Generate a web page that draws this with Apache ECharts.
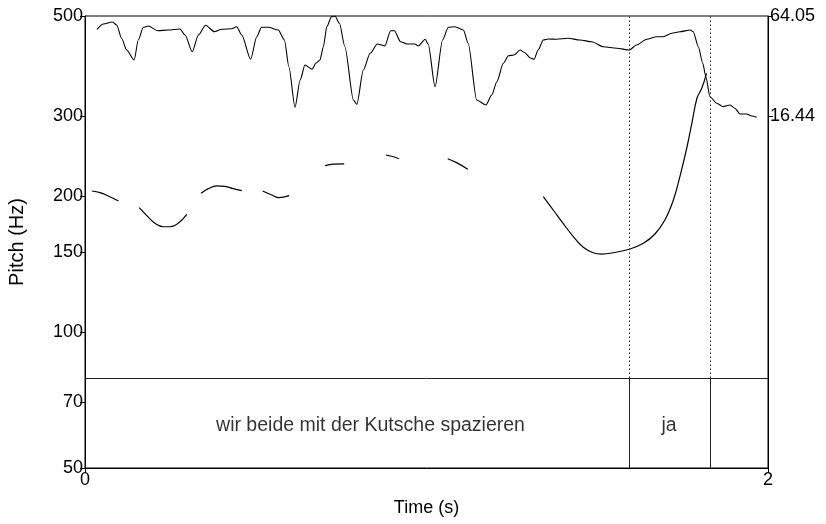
<!DOCTYPE html>
<html><head><meta charset="utf-8">
<script src="https://cdn.jsdelivr.net/npm/echarts@6/dist/echarts.min.js"></script>
<style>html,body{margin:0;padding:0;background:#fff}#c{width:826px;height:524px}</style>
</head><body><div id="c"></div>
<script>
// Pitch contour (s, Hz); null marks an unvoiced gap
const pitchTime = [0.020,0.044,0.068,0.098, 0.128, 0.159,0.181,0.205,0.229,0.249,0.273,0.298, 0.319, 0.340,0.361,0.386,0.410,0.434,0.459, 0.490, 0.520,0.547,0.568,0.598, 0.650, 0.703,0.727,0.759, 0.820, 0.881,0.898,0.920, 0.991, 1.062,1.088,1.121, 1.232, 1.342,1.371,1.401,1.430,1.459,1.488,1.513,1.547,1.594,1.635,1.669,1.698,1.723,1.742,1.762,1.777,1.792,1.806,1.820];
const pitchHz = [205.0,203.3,199.9,194.9, null, 188.3,180.8,173.9,170.9,170.9,173.9,182.1, null, 202.7,207.5,210.4,210.0,207.5,205.4, null, 205.0,200.9,198.2,200.2, null, 233.3,235.0,235.3, null, 246.3,244.7,241.7, null, 241.7,236.9,229.0, null, 199.2,186.1,173.4,162.5,153.9,149.7,148.7,149.7,152.4,157.1,164.7,176.9,195.9,220.6,254.9,289.5,328.8,345.9,373.4];

// Intensity contour (s, dB)
const intensityTime = [0.035,0.054,0.080,0.093,0.107,0.122,0.144,0.156,0.171,0.185,0.213,0.244,0.278,0.293,0.314,0.332,0.353,0.379,0.400,0.430,0.444,0.459,0.485,0.503,0.517,0.537,0.566,0.584,0.597,0.615,0.630,0.644,0.665,0.676,0.688,0.698,0.708,0.722,0.732,0.745,0.761,0.786,0.796,0.815,0.835,0.856,0.869,0.878,0.895,0.906,0.924,0.942,0.966,0.976,0.996,1.005,1.025,1.047,1.064,1.083,1.108,1.122,1.147,1.174,1.191,1.206,1.225,1.240,1.256,1.274,1.288,1.303,1.315,1.327,1.342,1.357,1.381,1.415,1.449,1.484,1.518,1.557,1.594,1.615,1.645,1.674,1.693,1.718,1.742,1.772,1.781,1.796,1.809,1.818,1.830,1.850,1.869,1.889,1.903,1.918,1.938,1.952,1.967];
const intensityDb = [57.72,60.24,61.19,59.77,53.43,47.86,43.10,52.62,58.67,59.29,57.05,57.38,57.86,55.00,47.05,55.00,59.62,56.58,57.72,58.00,58.96,55.00,43.43,54.19,58.67,58.67,57.38,52.62,39.91,20.58,33.58,40.72,38.67,41.53,43.10,49.43,58.96,63.72,64.05,60.57,49.43,24.06,22.01,38.34,46.29,50.72,50.24,49.77,57.05,57.05,51.81,50.72,50.72,49.77,52.96,50.72,30.39,52.62,58.67,58.96,57.38,51.05,24.06,21.68,26.44,32.77,41.53,45.15,45.48,47.86,46.58,44.20,43.43,47.86,52.62,53.10,52.96,53.43,52.62,51.81,49.43,48.67,47.86,50.24,52.96,54.19,54.19,55.81,56.58,57.38,56.58,49.43,41.53,35.15,25.63,22.49,20.87,21.68,20.11,17.39,17.39,16.44,15.82];

// Axes
const pitchTicks = [50,70,100,150,200,300,500];
const intensityTicks = [16.44, 64.05];
const timeRange = [0, 2];

// TextGrid tier
const boundaries = [1.593, 1.830];
const tierLabels = ['wir beide mit der Kutsche spazieren', 'ja'];
const tierLabelTime = [0.836, 1.710];
const tierTopHz = 79.1;
const tierMidHz = 62.0;

const FONT = "'Liberation Sans', Arial, sans-serif";
const chart = echarts.init(document.getElementById('c'), null, {renderer: 'canvas'});

const pitchData = pitchTime.map((t, i) => [t, pitchHz[i] == null ? '-' : pitchHz[i]]);
const intensityData = intensityTime.map((t, i) => [t, intensityDb[i]]);

const vSolid = boundaries.map(b => [{coord: [b, 50]}, {coord: [b, tierTopHz]}]);
const vDotted = boundaries.map(b => [{coord: [b, tierTopHz]}, {coord: [b, 500]}]);

const axisTxt = {color: '#000', fontSize: 18, fontFamily: FONT};

chart.setOption({
  animation: false,
  backgroundColor: '#fff',
  grid: {left: 85, right: 58, top: 16, bottom: 56, show: true, borderColor: '#000', borderWidth: 1,
         backgroundColor: 'transparent', containLabel: false, outerBoundsMode: 'none'},
  xAxis: {
    type: 'value', min: timeRange[0], max: timeRange[1], interval: 2,
    name: 'Time (s)', nameLocation: 'middle', nameGap: 31,
    nameTextStyle: {color: '#000', fontSize: 18, fontFamily: FONT},
    axisLine: {show: true, onZero: false, lineStyle: {color: '#000', width: 1}},
    axisTick: {show: true, inside: false, length: 5, lineStyle: {color: '#000'}},
    axisLabel: Object.assign({margin: 3}, axisTxt),
    splitLine: {show: false}
  },
  yAxis: [{
    type: 'log', logBase: 10, min: 50, max: 500,
    name: 'Pitch (Hz)', nameLocation: 'middle', nameGap: 58,
    nameTextStyle: {color: '#000', fontSize: 20, fontFamily: FONT},
    axisLine: {show: true, lineStyle: {color: '#000', width: 1}},
    axisTick: {show: true, inside: false, length: 5, customValues: pitchTicks, lineStyle: {color: '#000'}},
    axisLabel: Object.assign({margin: 2, customValues: pitchTicks, showMinLabel: true, showMaxLabel: true}, axisTxt),
    splitLine: {show: false}
  }, {
    type: 'value', min: 64.05 - 452 * 0.4761, max: 64.05, position: 'right',
    axisLine: {show: true, lineStyle: {color: '#000', width: 1}},
    axisTick: {show: true, inside: false, length: 5, customValues: intensityTicks, lineStyle: {color: '#000'}},
    axisLabel: Object.assign({margin: 2, customValues: intensityTicks, formatter: v => v.toFixed(2)}, axisTxt),
    splitLine: {show: false}
  }],
  series: [{
    type: 'line', name: 'pitch', data: pitchData, yAxisIndex: 0,
    showSymbol: false, connectNulls: false, smooth: 0.4,
    lineStyle: {color: '#000', width: 1.2}, silent: true,
    markLine: {
      silent: true, symbol: 'none', label: {show: false},
      data: [
        [{coord: [timeRange[0], tierTopHz]}, {coord: [timeRange[1], tierTopHz]}]
      ].concat(vSolid)
       .map(d => { d[0].lineStyle = {color: '#222', width: 1, type: 'solid'}; return d; })
       .concat(vDotted.map(d => { d[0].lineStyle = {color: '#222', width: 1, type: [1.5, 2.5]}; return d; }))
    }
  }, {
    type: 'line', name: 'intensity', data: intensityData, yAxisIndex: 1,
    showSymbol: false, smooth: 0.25, smoothMonotone: 'x',
    lineStyle: {color: '#000', width: 1.1}, silent: true
  }, {
    type: 'scatter', yAxisIndex: 0, symbolSize: 0, silent: true,
    data: tierLabels.map((s, i) => ({name: s, value: [tierLabelTime[i], tierMidHz]})),
    label: {show: true, position: 'inside', formatter: '{b}', color: '#000', fontSize: 19.5, fontFamily: FONT}
  }]
});
</script>
</body></html>
